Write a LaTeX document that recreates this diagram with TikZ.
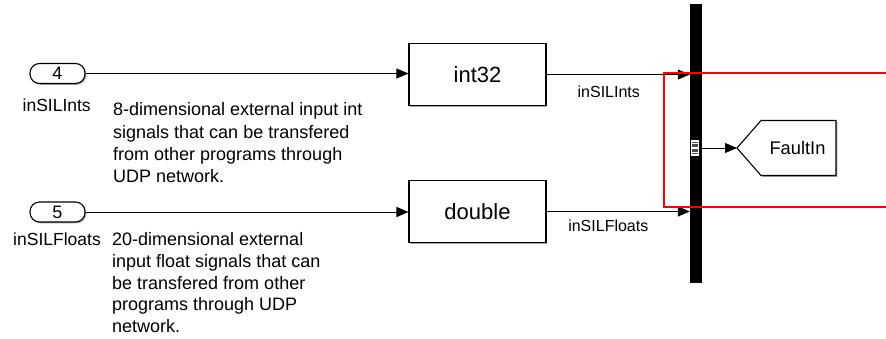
\documentclass[tikz,border=0pt]{standalone}
\usepackage{fontspec}
\setmainfont{Liberation Sans}
\usetikzlibrary{arrows.meta,shadows}
\begin{document}
\begin{tikzpicture}[x=1pt,y=-1pt,
  sig/.style={line width=0.9pt,-{Triangle[length=12pt,width=10pt]}},
  shad/.style={drop shadow={shadow xshift=1.3pt,shadow yshift=-1.3pt,opacity=0.35,fill=black}},
  inport/.style={draw,line width=1.1pt,rounded corners=9.5pt,minimum width=55pt,minimum height=20pt,inner sep=0pt,fill=white,shad,font=\fontsize{18}{18}\selectfont},
  blk/.style={draw,line width=1.1pt,minimum width=137pt,minimum height=62pt,inner sep=0pt,fill=white,shad,font=\fontsize{22}{22}\selectfont},
  plbl/.style={font=\fontsize{17.5}{17.5}\selectfont,inner sep=0pt,anchor=base},
  slbl/.style={font=\fontsize{16}{16}\selectfont,inner sep=0pt,anchor=base},
  note/.style={align=left,inner sep=0pt,anchor=north west},
]
\useasboundingbox (0,0) rectangle (886,338);

% inports
\node[inport] (in4) at (57.5,73.5) {4};
\node[inport] (in5) at (57.5,212) {5};
\node[plbl] (in4l) at (56.7,111.5) {inSILInts};
\node[plbl] (in5l) at (57,245.7) {inSILFloats};

% annotations
\node[note,font=\fontsize{18}{22.4}\selectfont] (n1) at (113,102.5) {8-dimensional external input int\\signals that can be transfered\\from other programs through\\UDP network.};
\node[note,font=\fontsize{18}{21.7}\selectfont] (n2) at (112,232.5) {20-dimensional external\\input float signals that can\\be transfered from other\\programs through UDP\\network.};

% conversion blocks
\node[blk] (i32) at (477.5,74.5) {int32};
\node[blk] (dbl) at (477.5,211.5) {double};

% bus bar
\node[draw=black,fill=black,minimum width=11pt,minimum height=278pt,inner sep=0pt,shad] (bus) at (695.5,143) {};

% bus output port marker
\node[draw=white,line width=0.6pt,fill=black!70,minimum width=7pt,minimum height=15pt,inner sep=0pt] (bport) at (695,148) {};
\draw[white,line width=1.2pt] (691.8,143.5) -- (698.2,143.5) (691.8,148) -- (698.2,148) (691.8,152.5) -- (698.2,152.5);
\draw[white,line width=1.2pt] (691.8,141) -- (698.2,141) (691.8,155) -- (698.2,155);

% goto block
\coordinate (gtip) at (737,148);
\fill[black,opacity=0.35,shift={(1.3,1.3)}] (737,148) -- (761,120.5) -- (836,120.5) -- (836,175.5) -- (761,175.5) -- cycle;
\draw[line width=1.1pt,fill=white] (gtip) -- (761,120.5) -- (836,120.5) -- (836,175.5) -- (761,175.5) -- cycle;
\node[font=\fontsize{18.3}{18.3}\selectfont,inner sep=0pt] (fault) at (797.5,148) {FaultIn};

% signal lines
\draw[sig] (in4.east) -- (in4.east -| i32.west);
\draw[sig] (in5.east) -- (in5.east -| dbl.west);
\draw[sig] (i32.east) -- (i32.east -| bus.west);
\node[slbl] (l1) at (608.8,97) {inSILInts};
\draw[sig] (dbl.east) -- (dbl.east -| bus.west);
\node[slbl] (l2) at (608.3,231.5) {inSILFloats};
\draw[sig] (bport.east) -- (gtip);

% highlight
\draw[red,line width=2pt] (887,72.5) -- (664,72.5) -- (664,207) -- (887,207);
\end{tikzpicture}
\end{document}
